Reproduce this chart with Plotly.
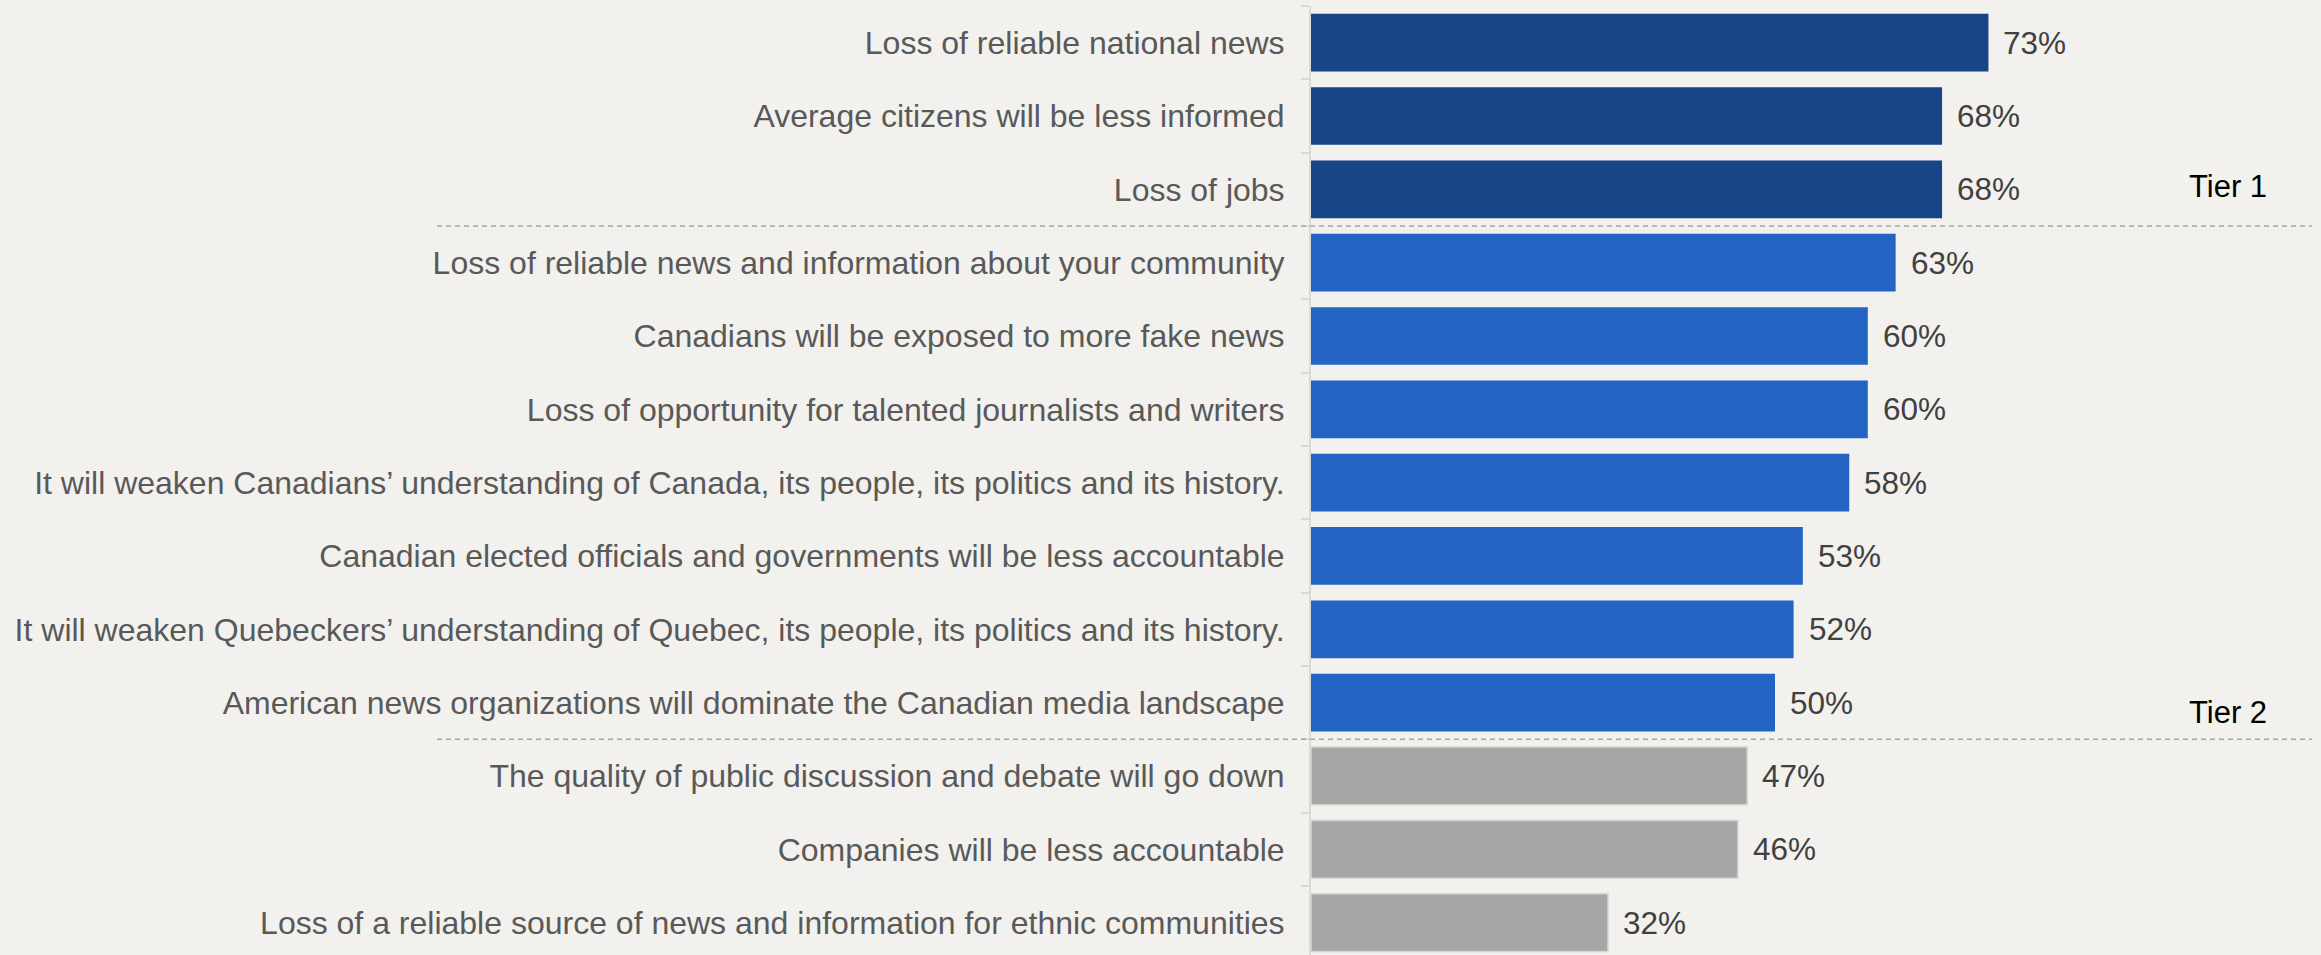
import plotly.graph_objects as go

# Survey items, top to bottom, with the share of respondents for each
categories = [
    "Loss of reliable national news",
    "Average citizens will be less informed",
    "Loss of jobs",
    "Loss of reliable news and information about your community",
    "Canadians will be exposed to more fake news",
    "Loss of opportunity for talented journalists and writers",
    "It will weaken Canadians\u2019 understanding of Canada, its people, its politics and its history.",
    "Canadian elected officials and governments will be less accountable",
    "It will weaken Quebeckers\u2019 understanding of Quebec, its people, its politics and its history.",
    "American news organizations will dominate the Canadian media landscape",
    "The quality of public discussion and debate will go down",
    "Companies will be less accountable",
    "Loss of a reliable source of news and information for ethnic communities",
]
values = [73, 68, 68, 63, 60, 60, 58, 53, 52, 50, 47, 46, 32]
tiers = [1, 1, 1, 2, 2, 2, 2, 2, 2, 2, 3, 3, 3]
tier_labels = ["Tier 1", "Tier 2"]

TIER_COLORS = {1: "#184588", 2: "#2263c4", 3: "#a6a6a6"}
TIER_LINES = {1: "#184588", 2: "#2263c4", 3: "#d4d4d4"}
BG = "#f2f1ee"
FONT = "Liberation Sans, Arial, sans-serif"

W, H = 2321, 955
M_L, M_R, M_T, M_B = 1311, 0, 6, 0
X_MAX = (W - M_L - M_R) / 9.28  # roughly 9.28 px per percentage point
ROW_PX = 73.33                  # height of one category row
Y_BOTTOM = -0.5 + (H - M_T - M_B) / ROW_PX

fig = go.Figure()
fig.add_trace(go.Bar(
    x=values,
    y=categories,
    orientation="h",
    marker=dict(
        color=[TIER_COLORS[t] for t in tiers],
        line=dict(color=[TIER_LINES[t] for t in tiers],
                  width=[0 if t < 3 else 1.5 for t in tiers]),
    ),
    hoverinfo="skip",
))

# Value labels just right of each bar
for cat, v in zip(categories, values):
    fig.add_annotation(
        x=v, y=cat, xref="x", yref="y",
        text=f"{v}%", showarrow=False,
        xanchor="left", yanchor="middle", xshift=13,
        font=dict(family=FONT, size=31.5, color="#404040"),
    )

# Dashed separators between tiers, with tier names at the right
boundaries = [i - 0.5 for i in range(1, len(tiers)) if tiers[i] != tiers[i - 1]]
for b, lab, ys in zip(boundaries, tier_labels, [39, 27]):
    fig.add_shape(
        type="line", xref="paper", yref="y",
        x0=(437 - M_L) / (W - M_L - M_R), x1=(2312 - M_L) / (W - M_L - M_R),
        y0=b, y1=b,
        line=dict(color="#a6a6a6", width=1.5, dash="5px,4px"),
    )
    fig.add_annotation(
        x=(2228 - M_L) / (W - M_L - M_R), y=b, xref="paper", yref="y",
        text=lab, showarrow=False, xanchor="center", yanchor="middle",
        yshift=ys, font=dict(family=FONT, size=31, color="#000000"),
    )

fig.update_layout(
    width=W, height=H,
    margin=dict(l=M_L, r=M_R, t=M_T, b=M_B, pad=0),
    paper_bgcolor=BG, plot_bgcolor=BG,
    bargap=0.213,
    showlegend=False,
    font=dict(family=FONT),
    xaxis=dict(range=[0, X_MAX], visible=False, fixedrange=True),
    yaxis=dict(
        range=[Y_BOTTOM, -0.5],
        showgrid=False, zeroline=False,
        showline=True, linecolor="#d9d9d9", linewidth=2,
        ticks="outside", tickson="boundaries", ticklen=8,
        tickcolor="#d9d9d9", tickwidth=2,
        ticklabelstandoff=18,
        tickfont=dict(family=FONT, size=32, color="#595959"),
        fixedrange=True,
    ),
)

fig.write_html("out.html")
